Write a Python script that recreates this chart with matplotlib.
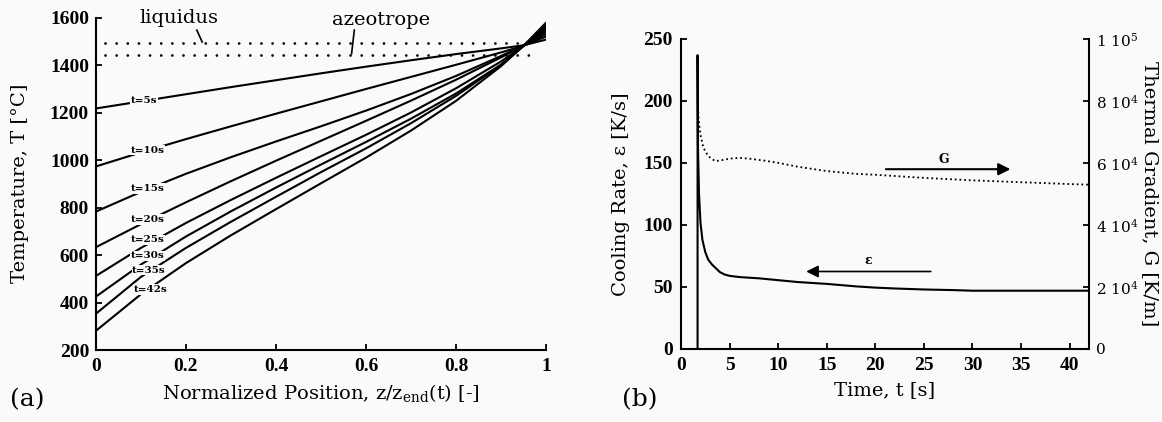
import numpy as np
import matplotlib
matplotlib.use("Agg")
import matplotlib.pyplot as plt

plt.rcParams['font.family'] = ['DejaVu Serif']
plt.rcParams['mathtext.fontset'] = 'custom'
plt.rcParams['mathtext.rm'] = 'DejaVu Serif'
plt.rcParams['mathtext.it'] = 'DejaVu Serif'

# ---- panel (a): temperature profiles along the normalized position ----
z_pos = [0.0, 0.1, 0.2, 0.3, 0.4, 0.5, 0.6, 0.7, 0.8, 0.9, 0.95, 1.0]
times = ['t=5s', 't=10s', 't=15s', 't=20s', 't=25s', 't=30s', 't=35s', 't=42s']
T_5s = [1217, 1247, 1277, 1307, 1336, 1365, 1393, 1420, 1446, 1470, 1483, 1507]
T_10s = [973, 1032, 1088, 1142, 1195, 1247, 1299, 1350, 1401, 1453, 1481, 1520]
T_15s = [783, 866, 942, 1012, 1078, 1142, 1208, 1278, 1354, 1438, 1483, 1530]
T_20s = [633, 730, 822, 911, 997, 1081, 1165, 1250, 1338, 1432, 1483, 1540]
T_25s = [512, 630, 735, 832, 925, 1016, 1106, 1200, 1302, 1415, 1481, 1550]
T_30s = [425, 560, 678, 784, 884, 981, 1076, 1174, 1280, 1402, 1481, 1558]
T_35s = [353, 508, 630, 740, 845, 949, 1049, 1155, 1270, 1400, 1480, 1568]
T_42s = [281, 435, 566, 683, 793, 902, 1010, 1124, 1249, 1395, 1481, 1578]
profiles = [T_5s, T_10s, T_15s, T_20s, T_25s, T_30s, T_35s, T_42s]
label_z = [0.106, 0.115, 0.115, 0.115, 0.115, 0.115, 0.118, 0.122]
label_T = [1252, 1042, 880, 750, 664, 596, 536, 455]

T_liquidus = 1494
T_azeotrope = 1442

# ---- panel (b): cooling rate and thermal gradient vs time ----
t_eps = [1.7, 1.7, 1.75, 1.85, 2.0, 2.2, 2.5, 2.8, 3.2, 3.6, 4.0, 4.5, 5, 6, 7, 8,
         10, 12, 15, 18, 20, 22, 25, 28, 30, 35, 40, 42]
eps = [0, 237, 160, 125, 102, 88, 78, 72, 68, 65, 62, 60, 59, 58, 57.5, 57,
       55.5, 54, 52.5, 50.5, 49.5, 48.8, 48, 47.5, 47, 47, 47, 47]
t_G = [1.75, 1.8, 2.0, 2.3, 2.8, 3.5, 4.0, 5, 6, 7, 8.5, 10, 12, 15, 18,
       20, 25, 30, 35, 40, 42]
G = [78000, 74400, 69100, 64900, 62200, 60600, 60800, 61400, 61650, 61400, 60800,
     60050, 58800, 57400, 56500, 56200, 55200, 54400, 53800, 53200, 53000]
G_ticks = [0, 2e4, 4e4, 6e4, 8e4, 1e5]
G_ticklabels = ['0', r'2 10$^4$', r'4 10$^4$', r'6 10$^4$', r'8 10$^4$', r'1 10$^5$']

bg = '#fafafa'
fig = plt.figure(figsize=(11.62, 4.22), dpi=100, facecolor=bg)


def style_ticks(labels, size=14):
    for lab in labels:
        lab.set_fontfamily('Liberation Serif')
        lab.set_fontweight('bold')
        lab.set_fontsize(size)


# ---------------- (a) ----------------
ax1 = fig.add_axes([0.0826, 0.1706, 0.3873, 0.7879], facecolor=bg)
for name, T, zl, tl in zip(times, profiles, label_z, label_T):
    ax1.plot(z_pos, T, color='k', lw=1.5)
    ax1.text(zl, tl, name, fontsize=7.5, fontweight='bold',
             ha='center', va='center',
             bbox=dict(facecolor=bg, edgecolor='none', pad=0.5))

ax1.plot([0.02, 0.98], [T_liquidus, T_liquidus], color='k', lw=2.0,
         linestyle=(0, (0.01, 4.0)), dash_capstyle='round')
ax1.plot([0.02, 0.98], [T_azeotrope, T_azeotrope], color='k', lw=2.0,
         linestyle=(0, (0.01, 4.0)), dash_capstyle='round')
ax1.text(0.185, 1600, 'liquidus', fontsize=14, ha='center', va='center')
ax1.plot([0.224, 0.236], [1547, 1497], color='k', lw=1.2)
ax1.text(0.633, 1588, 'azeotrope', fontsize=14, ha='center', va='center')
ax1.plot([0.574, 0.568], [1547, 1448], color='k', lw=1.2)

ax1.set_xlim(0, 1)
ax1.set_ylim(200, 1600)
ax1.set_xticks([0, 0.2, 0.4, 0.6, 0.8, 1.0])
ax1.set_xticklabels(['0', '0.2', '0.4', '0.6', '0.8', '1'])
ax1.set_yticks(range(200, 1601, 200))
ax1.set_xlabel(r'Normalized Position, z/z$_{\mathrm{end}}$(t) [-]', fontsize=14, labelpad=5)
ax1.set_ylabel('Temperature, T [°C]', fontsize=14)
ax1.yaxis.set_label_coords(-0.149, 0.5)
for s in ['top', 'right']:
    ax1.spines[s].set_visible(False)
for s in ['left', 'bottom']:
    ax1.spines[s].set_linewidth(1.5)
ax1.tick_params(direction='in', length=4, width=1.3)
ax1.tick_params(axis='x', pad=6)
ax1.tick_params(axis='y', pad=5)
style_ticks(ax1.get_xticklabels() + ax1.get_yticklabels())
fig.text(27 / 1162, 1 - 400 / 422, '(a)', fontsize=18, ha='center', va='center')

# ---------------- (b) ----------------
ax2 = fig.add_axes([0.5861, 0.1730, 0.3511, 0.7346], facecolor=bg)
ax2.plot(t_eps, eps, color='k', lw=1.5)
ax2.set_xlim(0, 42)
ax2.set_ylim(0, 250)
ax2.set_xticks(range(0, 41, 5))
ax2.set_yticks(range(0, 251, 50))
ax2.set_xlabel('Time, t [s]', fontsize=14, labelpad=5)
ax2.set_ylabel('Cooling Rate, ε [K/s]', fontsize=14)
ax2.yaxis.set_label_coords(-0.125, 0.5)
ax2.spines['top'].set_visible(False)
ax2.spines['right'].set_visible(False)
for s in ['left', 'bottom']:
    ax2.spines[s].set_linewidth(1.5)
ax2.tick_params(direction='in', length=4, width=1.3)
ax2.tick_params(axis='x', pad=6)
ax2.tick_params(axis='y', pad=6)
style_ticks(ax2.get_xticklabels() + ax2.get_yticklabels())

ax2.annotate('', xy=(34.2, 145), xytext=(20.8, 145),
             arrowprops=dict(arrowstyle='-|>', color='k', lw=1.5, mutation_scale=18))
ax2.text(27.1, 153, 'G', fontsize=9, fontweight='bold', ha='center', va='center')
ax2.annotate('', xy=(12.6, 62.5), xytext=(26.0, 62.5),
             arrowprops=dict(arrowstyle='-|>', color='k', lw=1.2, mutation_scale=18))
ax2.text(19.3, 71, 'ε', fontsize=9, fontweight='bold', ha='center', va='center')

ax3 = ax2.twinx()
ax3.plot(t_G, G, color='k', lw=1.3, linestyle=(0, (1, 1.6)))
ax3.set_ylim(0, 1e5)
ax3.set_yticks(G_ticks)
ax3.set_yticklabels(G_ticklabels)
ax3.set_ylabel('Thermal Gradient, G [K/m]', fontsize=14, rotation=270, va='center')
ax3.yaxis.set_label_coords(1.15, 0.5)
ax3.spines['top'].set_visible(False)
ax3.spines['left'].set_visible(False)
ax3.spines['bottom'].set_visible(False)
ax3.spines['right'].set_linewidth(1.5)
ax3.tick_params(direction='in', length=4, width=1.3, pad=5)
for lab in ax3.get_yticklabels():
    lab.set_fontfamily('DejaVu Serif')
    lab.set_fontsize(11)
fig.text(640 / 1162, 1 - 400 / 422, '(b)', fontsize=18, ha='center', va='center')

fig.savefig('out.png', dpi=100, facecolor=bg)
